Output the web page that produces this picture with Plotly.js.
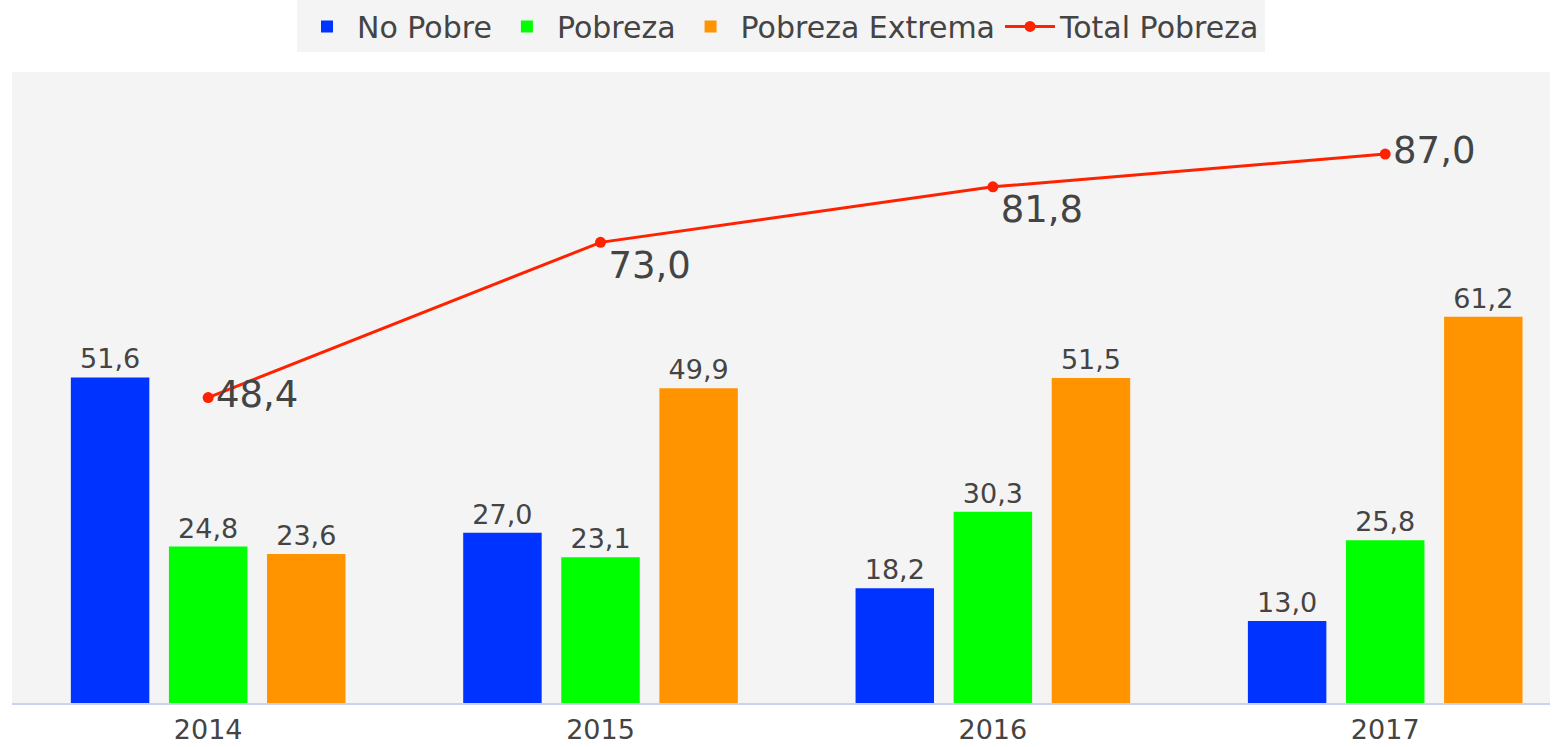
<!DOCTYPE html>
<html>
<head>
<meta charset="utf-8">
<script src="https://cdn.plot.ly/plotly-3.0.1.min.js"></script>
<style>html,body{margin:0;padding:0;background:#fff;}#chart{width:1560px;height:747px;}</style>
</head>
<body>
<div id="chart"></div>
<script>
var years = ['2014', '2015', '2016', '2017'];
var noPobre = [51.6, 27.0, 18.2, 13.0];
var pobreza = [24.8, 23.1, 30.3, 25.8];
var pobrezaExtrema = [23.6, 49.9, 51.5, 61.2];
var totalPobreza = [48.4, 73.0, 81.8, 87.0];
var totalLabelPos = ['middle right', 'bottom right', 'bottom right', 'middle right'];

function fmt(v) { return v.toFixed(1).replace('.', ','); }

var font = 'DejaVu Sans, Arial, sans-serif';
var txtColor = '#444444';

function barTrace(name, vals, color) {
  return {
    type: 'bar', name: name, x: years, y: vals,
    text: vals.map(fmt), textposition: 'outside', cliponaxis: false,
    textfont: {family: font, size: 27, color: txtColor},
    marker: {color: color, line: {color: color, width: 0}},
    hoverinfo: 'x+y'
  };
}

var data = [
  barTrace('No Pobre', noPobre, '#0033ff'),
  barTrace('Pobreza', pobreza, '#00ff00'),
  barTrace('Pobreza Extrema', pobrezaExtrema, '#ff9400'),
  {
    type: 'scatter', mode: 'lines+markers+text', name: 'Total Pobreza',
    x: years, y: totalPobreza,
    text: totalPobreza.map(fmt), textposition: totalLabelPos, cliponaxis: false,
    textfont: {family: font, size: 37, color: txtColor},
    line: {color: '#ff2200', width: 3},
    marker: {color: '#ff2200', size: 11}
  }
];

var layout = {
  width: 1560, height: 747,
  margin: {l: 12, r: 10, t: 72, b: 44, autoexpand: false},
  paper_bgcolor: '#ffffff',
  plot_bgcolor: '#f4f4f4',
  barmode: 'group',
  bargap: 0.25,
  bargroupgap: 0.2,
  font: {family: font, color: txtColor},
  showlegend: true,
  legend: {
    orientation: 'h', x: 0.5, xanchor: 'center', y: 1.031, yanchor: 'bottom',
    bgcolor: '#f4f4f4', font: {family: font, size: 30, color: txtColor},
    itemwidth: 50,
    traceorder: 'normal'
  },
  xaxis: {
    type: 'category', range: [-0.5, 3.42],
    showgrid: false, zeroline: false,
    showline: true, linecolor: '#c8d2f5', linewidth: 1.5,
    tickfont: {family: font, size: 27, color: txtColor},
    ticks: '', ticklabelstandoff: 2
  },
  yaxis: {
    range: [0, 100], visible: false, showgrid: false, zeroline: false
  }
};

Plotly.newPlot('chart', data, layout, {displayModeBar: false, staticPlot: true});
</script>
</body>
</html>
